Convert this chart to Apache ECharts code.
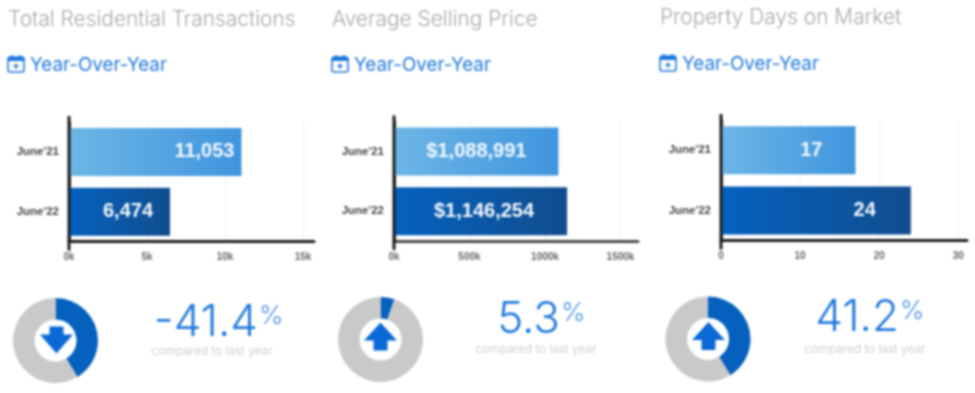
<!DOCTYPE html>
<html>
<head>
<meta charset="utf-8">
<style>
  html, body { margin: 0; padding: 0; background: #fff; }
  #main { width: 975px; height: 393px; filter: blur(0.8px); }
</style>
<script src="https://cdn.jsdelivr.net/npm/echarts@6/dist/echarts.min.js"></script>
</head>
<body>
<div id="main"></div>
<script>
// data
const categories = ["June'21", "June'22"]
const titles = ['Total Residential Transactions', 'Average Selling Price', 'Property Days on Market']
const transactions = [11053, 6474]
const sellingPrice = [1088991, 1146254]
const daysOnMarket = [17, 24]
const changeText = ['-41.4', '5.3', '41.2']
const changeShare = [41.4, 5.3, 41.2]
const compareText = 'compared to last year'
const subTitle = 'Year-Over-Year'

// panel layout, one entry per panel
const panels = [
    {values: transactions, text: v => v.toLocaleString('en-US'), left: 69, right: 314, top: 122, bottom: 241.5, max: 15700, interval: 5000, tick: v => v / 1000 + 'k', dist: [7, 17], axisColor: '#1d1d1f',
     titleX: 8, titleY: 20, subX: 8, subY: 65, cx: 55.5, cy: 340.5, up: false, arrowX: 56.5, pctY: 323, pctR: 258, cmpX: 212, cmpY: 351},
    {values: sellingPrice, text: v => '$' + v.toLocaleString('en-US'), left: 394, right: 638, top: 121.5, bottom: 241, max: 1616000, interval: 500000, tick: v => v / 1000 + 'k', dist: [32, 33], axisColor: '#4a4a4c',
     titleX: 332, titleY: 20, subX: 332, subY: 65, cx: 380.5, cy: 339.5, up: true, arrowX: 380.5, pctY: 320, pctR: 560, cmpX: 536, cmpY: 349},
    {values: daysOnMarket, text: v => String(v), left: 721, right: 967, top: 120, bottom: 240.5, max: 31.1, interval: 10, tick: v => String(v), dist: [33, 35], axisColor: '#1d1d1f',
     titleX: 660, titleY: 18, subX: 660, subY: 64, cx: 708, cy: 339, up: true, arrowX: 708.5, pctY: 318, pctR: 899, cmpX: 865, cmpY: 349}
]

const lightBar = new echarts.graphic.LinearGradient(0, 0, 1, 0, [{offset: 0, color: '#6db6e6'}, {offset: 1, color: '#3f95de'}])
const darkBar = new echarts.graphic.LinearGradient(0, 0, 1, 0, [{offset: 0, color: '#0562bf'}, {offset: 1, color: '#114d8e'}])
const blue = '#1f78dc'
const arrowBlue = '#0a69d6'
const titleFont = 'Inter, "Open Sans", sans-serif'

function arrowShape(p) {
    const x = p.arrowX
    if (p.up) {
        const y = p.cy - 17
        return [[x, y], [x + 16.5, y + 18], [x + 7, y + 18], [x + 7, y + 28], [x - 7, y + 28], [x - 7, y + 18], [x - 16.5, y + 18]]
    }
    const y = p.cy - 14
    return [[x - 7, y], [x + 7, y], [x + 7, y + 8], [x + 16.5, y + 8], [x, y + 27], [x - 16.5, y + 8], [x - 7, y + 8]]
}

function calendarIcon(x, y) {
    const style = {stroke: blue, fill: 'none', lineWidth: 1.6}
    return [
        {type: 'rect', shape: {x: x, y: y + 2, width: 16, height: 15, r: 2}, style: style},
        {type: 'rect', shape: {x: x, y: y + 2, width: 16, height: 4}, style: {fill: blue}},
        {type: 'line', shape: {x1: x + 4, y1: y, x2: x + 4, y2: y + 3}, style: style},
        {type: 'line', shape: {x1: x + 12, y1: y, x2: x + 12, y2: y + 3}, style: style},
        {type: 'line', shape: {x1: x + 5.5, y1: y + 11, x2: x + 10.5, y2: y + 11}, style: style},
        {type: 'line', shape: {x1: x + 8, y1: y + 8.5, x2: x + 8, y2: y + 13.5}, style: style}
    ]
}

const graphic = []
panels.forEach((p, i) => {
    graphic.push({type: 'text', x: p.titleX, y: p.titleY, style: {text: titles[i], font: '300 20.9px ' + titleFont, fill: '#a9a9a9', verticalAlign: 'middle'}})
    graphic.push({type: 'text', x: p.subX + 22, y: p.subY, style: {text: subTitle, font: '400 18.8px ' + titleFont, fill: blue, verticalAlign: 'middle'}})
    graphic.push(...calendarIcon(p.subX, p.subY - 10))
    // axis line runs a little past the plot on both ends
    graphic.push({type: 'line', z: 5, shape: {x1: p.left, y1: p.top - 6, x2: p.left, y2: p.bottom + 9}, style: {stroke: '#1d1d1f', lineWidth: 3}})
    graphic.push({type: 'polygon', z: 5, shape: {points: arrowShape(p)}, style: {fill: arrowBlue}})
    graphic.push({type: 'text', x: p.pctR, y: p.pctY, style: {text: changeText[i], font: '300 44px ' + titleFont, fill: blue, align: 'right', verticalAlign: 'middle'}})
    graphic.push({type: 'text', x: p.pctR + 1, y: p.pctY - 7, style: {text: '%', font: '300 26px ' + titleFont, fill: '#4b93e4', verticalAlign: 'middle'}})
    graphic.push({type: 'text', x: p.cmpX, y: p.cmpY, style: {text: compareText, font: '300 12px ' + titleFont, fill: '#c4c4c4', align: 'center', verticalAlign: 'middle'}})
})

const option = {
    animation: false,
    grid: panels.map(p => ({left: p.left, width: p.right - p.left, top: p.top, height: p.bottom - p.top})),
    xAxis: panels.map((p, i) => ({
        type: 'value', gridIndex: i, min: 0, max: p.max, interval: p.interval,
        axisLine: {show: true, lineStyle: {color: p.axisColor, width: 3}},
        axisTick: {show: false},
        splitLine: {show: true, showMinLine: false, showMaxLine: false, lineStyle: {color: '#f1f1f1', width: 1}},
        axisLabel: {show: true, showMaxLabel: false, formatter: p.tick, margin: 11, color: '#666', fontSize: 10, fontWeight: 'bold', fontFamily: 'Liberation Sans'}
    })),
    yAxis: panels.map((p, i) => ({
        type: 'category', gridIndex: i, inverse: true, data: categories,
        axisLine: {show: true, lineStyle: {color: '#1d1d1f', width: 3}},
        axisTick: {show: false},
        axisLabel: {margin: 10, color: '#444', fontSize: 11.5, fontWeight: 'bold', fontFamily: 'Liberation Sans'}
    })),
    series: [
        ...panels.map((p, i) => ({
            type: 'bar', xAxisIndex: i, yAxisIndex: i, barWidth: 48,
            data: p.values.map((v, j) => ({
                value: v,
                itemStyle: {color: j === 0 ? lightBar : darkBar},
                label: {show: true, position: 'insideRight', distance: p.dist[j], formatter: p.text(v), color: '#f4f8fc', fontSize: 20, fontWeight: 'bold', fontFamily: 'Liberation Sans'}
            }))
        })),
        ...panels.map((p, i) => ({
            type: 'pie', center: [p.cx, p.cy], radius: [21, 42.5], startAngle: 90, silent: true,
            label: {show: false}, labelLine: {show: false},
            data: [
                {value: changeShare[i], itemStyle: {color: '#0561bd'}},
                {value: 100 - changeShare[i], itemStyle: {color: '#c9c9c9'}}
            ]
        }))
    ],
    graphic: {elements: graphic}
}

const myChart = echarts.init(document.getElementById('main'), null, {renderer: 'canvas'})
myChart.setOption(option)
</script>
</body>
</html>
